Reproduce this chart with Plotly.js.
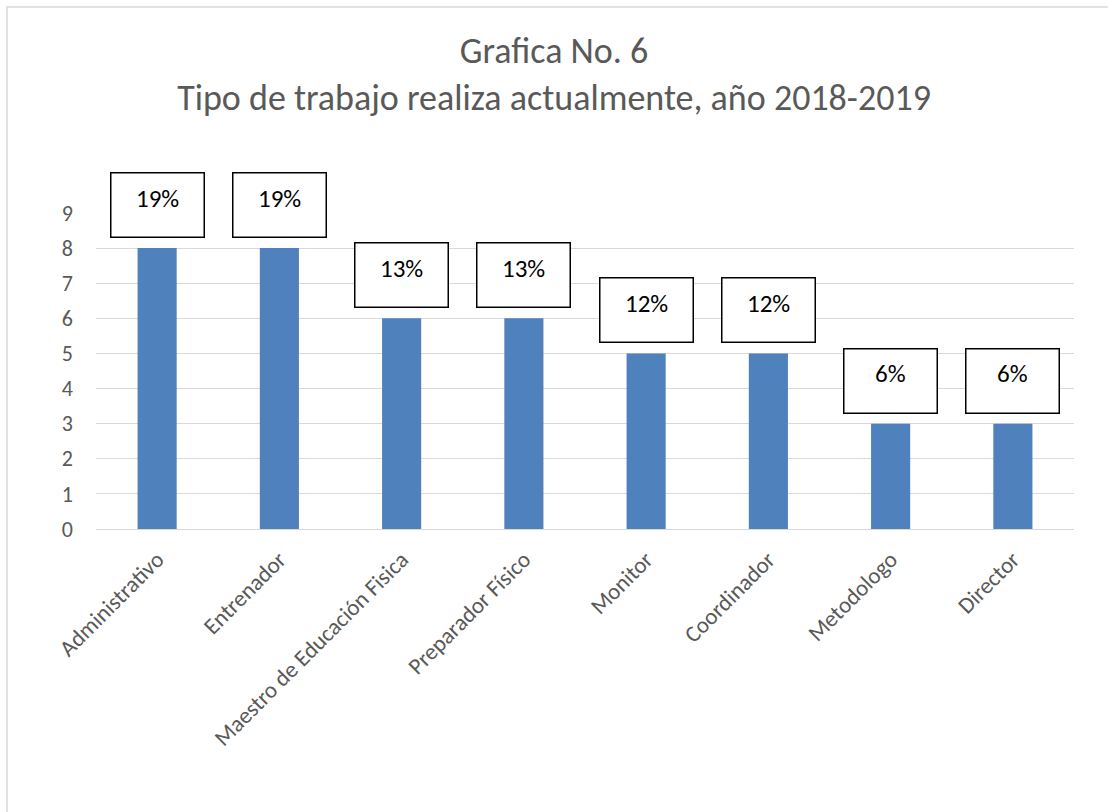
<!DOCTYPE html>
<html>
<head>
<meta charset="utf-8">
<script src="https://cdn.plot.ly/plotly-3.0.1.min.js"></script>
<style>
html,body{margin:0;padding:0;background:#fff;}
#chart{width:1108px;height:812px;}
</style>
</head>
<body>
<div id="chart"></div>
<script>
const categories = ["Administrativo","Entrenador","Maestro de Educación Fisica","Preparador Físico","Monitor","Coordinador","Metodologo","Director"];
const values = [8,8,6,6,5,5,3,3];
const percentLabels = ["19%","19%","13%","13%","12%","12%","6%","6%"];
const yTicks = [0,1,2,3,4,5,6,7,8,9];

const FONT = "Carlito, Calibri, Lato, 'Open Sans', sans-serif";

const trace = {
  type: "bar",
  x: categories,
  y: values,
  marker: {color: "#4F81BD"},
  width: 0.32,
  hoverinfo: "x+y"
};

// label boxes (frames) above each bar
const boxAnnotations = categories.map((c, i) => ({
  x: c, y: values[i], xref: "x", yref: "y",
  text: " ",
  showarrow: false,
  yanchor: "bottom",
  yshift: 10,
  width: 90, height: 61,
  bordercolor: "#000000", borderwidth: 1.5, borderpad: 1,
  bgcolor: "#ffffff",
  font: {family: FONT, size: 25, color: "#000000"}
}));
// percentage texts inside the boxes
const textAnnotations = categories.map((c, i) => ({
  x: c, y: values[i], xref: "x", yref: "y",
  text: percentLabels[i],
  showarrow: false,
  yanchor: "middle",
  yshift: 50,
  font: {family: FONT, size: 25, color: "#000000"}
}));

const W = 1108, H = 812, L = 96, R = 34, T = 213, B = 283;
const pw = W - L - R, ph = H - T - B;

const layout = {
  width: W, height: H,
  margin: {l: L, r: R, t: T, b: B, pad: 0},
  paper_bgcolor: "#ffffff",
  plot_bgcolor: "#ffffff",
  showlegend: false,
  title: {
    text: "Grafica No. 6<br>Tipo de trabajo realiza actualmente, año 2018-2019",
    font: {family: FONT, size: 36, color: "#595959"},
    x: 0.5, xanchor: "center",
    y: 1 - 63/H, yref: "container", yanchor: "top"
  },
  xaxis: {
    type: "category",
    tickangle: -45,
    tickfont: {family: FONT, size: 23, color: "#595959"},
    showgrid: false,
    showline: true, linecolor: "#d9d9d9", linewidth: 1,
    ticks: "",
    ticklabelstandoff: 7,
    automargin: false
  },
  yaxis: {
    range: [0, 9],
    tickvals: yTicks,
    tickfont: {family: FONT, size: 22, color: "#595959"},
    showgrid: true, gridcolor: "#d9d9d9", gridwidth: 1,
    zeroline: false, showline: false, ticks: "",
    ticklabelstandoff: 22,
    automargin: false,
    fixedrange: true
  },
  annotations: boxAnnotations.concat(textAnnotations),
  shapes: [{
    type: "rect", xref: "paper", yref: "paper",
    x0: (7 - L)/pw, x1: (W + 20 - L)/pw,
    y0: -(H + 20 - T - ph)/ph, y1: 1 + (T - 7)/ph,
    line: {color: "#d9d9d9", width: 1.5}, fillcolor: "rgba(0,0,0,0)"
  }],
  bargap: 0.68
};

Plotly.newPlot("chart", [trace], layout, {displayModeBar: false, staticPlot: true});
</script>
</body>
</html>
